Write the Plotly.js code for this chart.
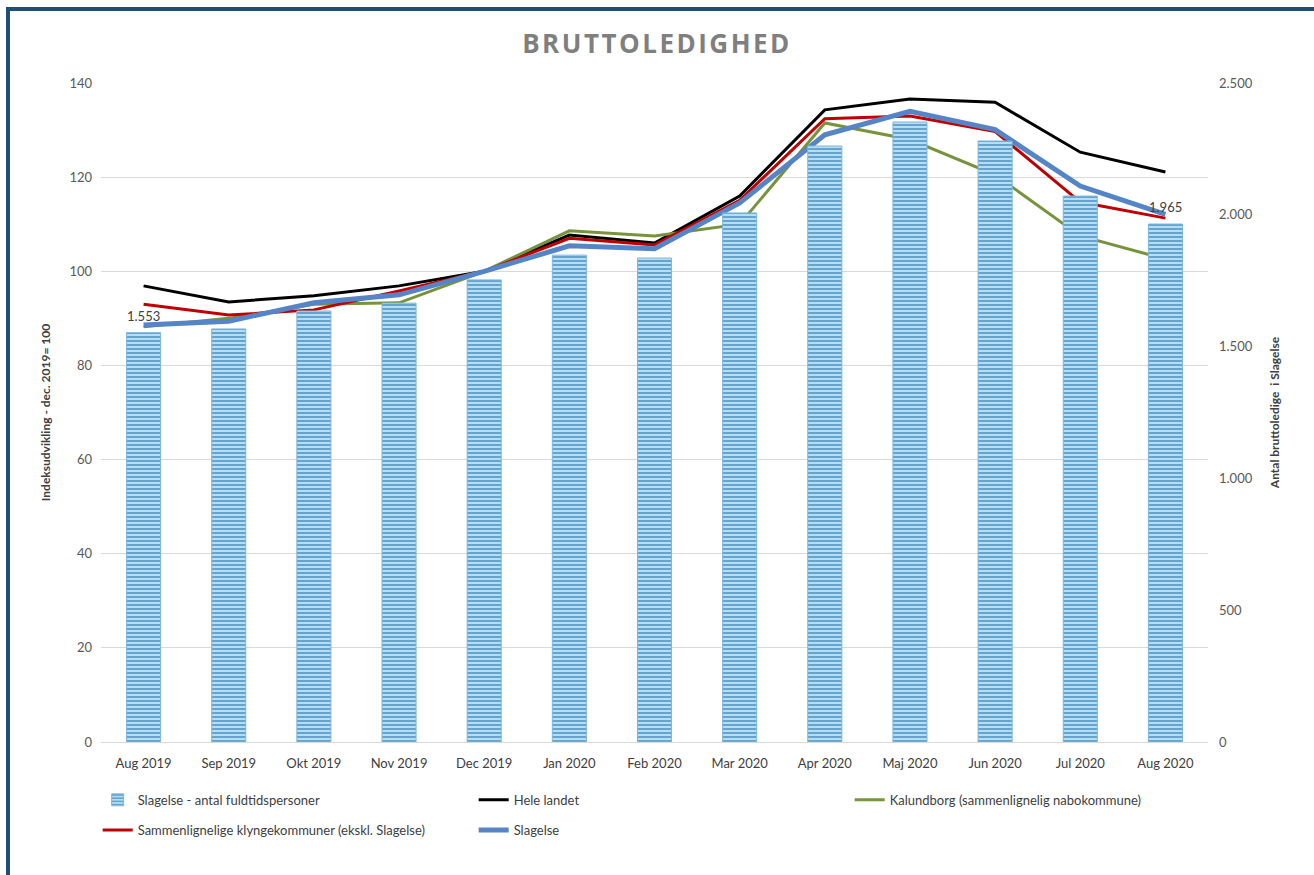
<!DOCTYPE html>
<html>
<head>
<meta charset="utf-8">
<script src="https://cdn.plot.ly/plotly-3.0.1.min.js"></script>
<style>
  html, body { margin: 0; padding: 0; background: #ffffff; }
  #chart { width: 1314px; height: 875px; }
  #frame { position: absolute; left: 6px; top: 7px; width: 1304px; height: 900px;
           border: 4px solid #1F4E79; border-bottom: none; pointer-events: none; }
  .gtitle { letter-spacing: 2.5px; }
</style>
</head>
<body>
<div id="chart"></div>
<div id="frame"></div>
<script>
const months = ["Aug 2019","Sep 2019","Okt 2019","Nov 2019","Dec 2019","Jan 2020","Feb 2020",
                "Mar 2020","Apr 2020","Maj 2020","Jun 2020","Jul 2020","Aug 2020"];
const slagelseAntal = [1553, 1567, 1635, 1665, 1753, 1847, 1836, 2007, 2261, 2352, 2280, 2071, 1965];
const heleLandet   = [96.9, 93.5, 94.8, 96.9, 100, 107.7, 106.0, 116.0, 134.3, 136.6, 135.9, 125.3, 121.1];
const kalundborg   = [88.2, 90.0, 93.0, 93.3, 100, 108.6, 107.5, 110.0, 131.5, 128.0, 120.5, 107.5, 102.6];
const klynge       = [93.0, 90.7, 91.8, 95.8, 100, 107.0, 105.6, 115.1, 132.4, 133.0, 129.7, 114.7, 111.3];
const slagelseIdx  = [88.6, 89.4, 93.3, 95.0, 100, 105.4, 104.8, 114.5, 129.0, 134.0, 130.1, 118.1, 112.1];
const labelIdx = [0, 12];

const font = "Lato, 'Open Sans', sans-serif";

const traces = [
  { type: "bar", name: "Slagelse - antal fuldtidspersoner", x: months, y: slagelseAntal, yaxis: "y2",
    width: 0.4, legend: "legend",
    marker: { color: "#A8D3EC", line: { color: "#7DB6DC", width: 1 },
              pattern: { shape: "-", fgcolor: "#5A9FCC", bgcolor: "#B8DDF0", size: 4, solidity: 0.45 } },
    hoverinfo: "x+y" },
  { type: "scatter", mode: "lines", name: "Hele landet", x: months, y: heleLandet, legend: "legend",
    line: { color: "#000000", width: 3 } },
  { type: "scatter", mode: "lines", name: "Kalundborg (sammenlignelig nabokommune)", x: months, y: kalundborg,
    legend: "legend", line: { color: "#77933C", width: 3 } },
  { type: "scatter", mode: "lines", name: "Sammenlignelige klyngekommuner (ekskl. Slagelse)", x: months, y: klynge,
    legend: "legend2", line: { color: "#C00000", width: 3 } },
  { type: "scatter", mode: "lines", name: "Slagelse", x: months, y: slagelseIdx, legend: "legend2",
    line: { color: "#5585C6", width: 5 } }
];

function fmt(v) { return String(v).replace(/\B(?=(\d{3})+(?!\d))/g, "."); }

const annotations = labelIdx.map(i => ({
  x: months[i], y: slagelseAntal[i], xref: "x", yref: "y2",
  text: fmt(slagelseAntal[i]), showarrow: false, yshift: 17,
  font: { family: font, size: 13, color: "#404040" }
}));

const legendBase = { orientation: "h", x: -0.003, xanchor: "left", yanchor: "top",
                     entrywidth: 331, entrywidthmode: "pixels", traceorder: "normal",
                     itemwidth: 30, tracegroupgap: 0, bgcolor: "rgba(0,0,0,0)",
                     font: { family: font, size: 13, color: "#404040" } };

const layout = {
  width: 1314, height: 875,
  paper_bgcolor: "#ffffff", plot_bgcolor: "#ffffff",
  margin: { l: 101, r: 106, t: 83, b: 133 },
  separators: ",.",
  font: { family: font, size: 13, color: "#595959" },
  title: { text: "<b>BRUTTOLEDIGHED</b>", x: 0.5, xanchor: "center", y: 0.95, yanchor: "middle",
           font: { family: "'Open Sans', sans-serif", size: 26, color: "#7F7F7F" } },
  xaxis: { type: "category", showgrid: false, showline: true, linecolor: "#D9D9D9", linewidth: 1,
           ticks: "", ticklabelstandoff: 9, tickfont: { size: 13, color: "#404040" }, fixedrange: true },
  yaxis: { range: [0, 140], dtick: 20, showgrid: true, gridcolor: "#D9D9D9", gridwidth: 1,
           zeroline: false, showline: false, ticks: "", ticklabelstandoff: 8,
           tickfont: { size: 13, color: "#595959" },
           title: { text: "<b>Indeksudvikling - dec. 2019= 100</b>", standoff: 16,
                    font: { size: 12, color: "#404040" } } },
  yaxis2: { range: [0, 2500], dtick: 500, overlaying: "y", side: "right", showgrid: false,
            zeroline: false, showline: false, ticks: "", tickformat: ",d", ticklabelstandoff: 10,
            tickfont: { size: 13, color: "#595959" },
            title: { text: "<b>Antal bruttoledige  i Slagelse</b>", standoff: 18,
                     font: { size: 12, color: "#404040" } } },
  showlegend: true,
  legend: Object.assign({}, legendBase, { y: -0.065 }),
  legend2: Object.assign({}, legendBase, { y: -0.111 }),
  annotations: annotations,
  bargap: 0.6
};

Plotly.newPlot("chart", traces, layout, { displayModeBar: false, staticPlot: true });
</script>
</body>
</html>
